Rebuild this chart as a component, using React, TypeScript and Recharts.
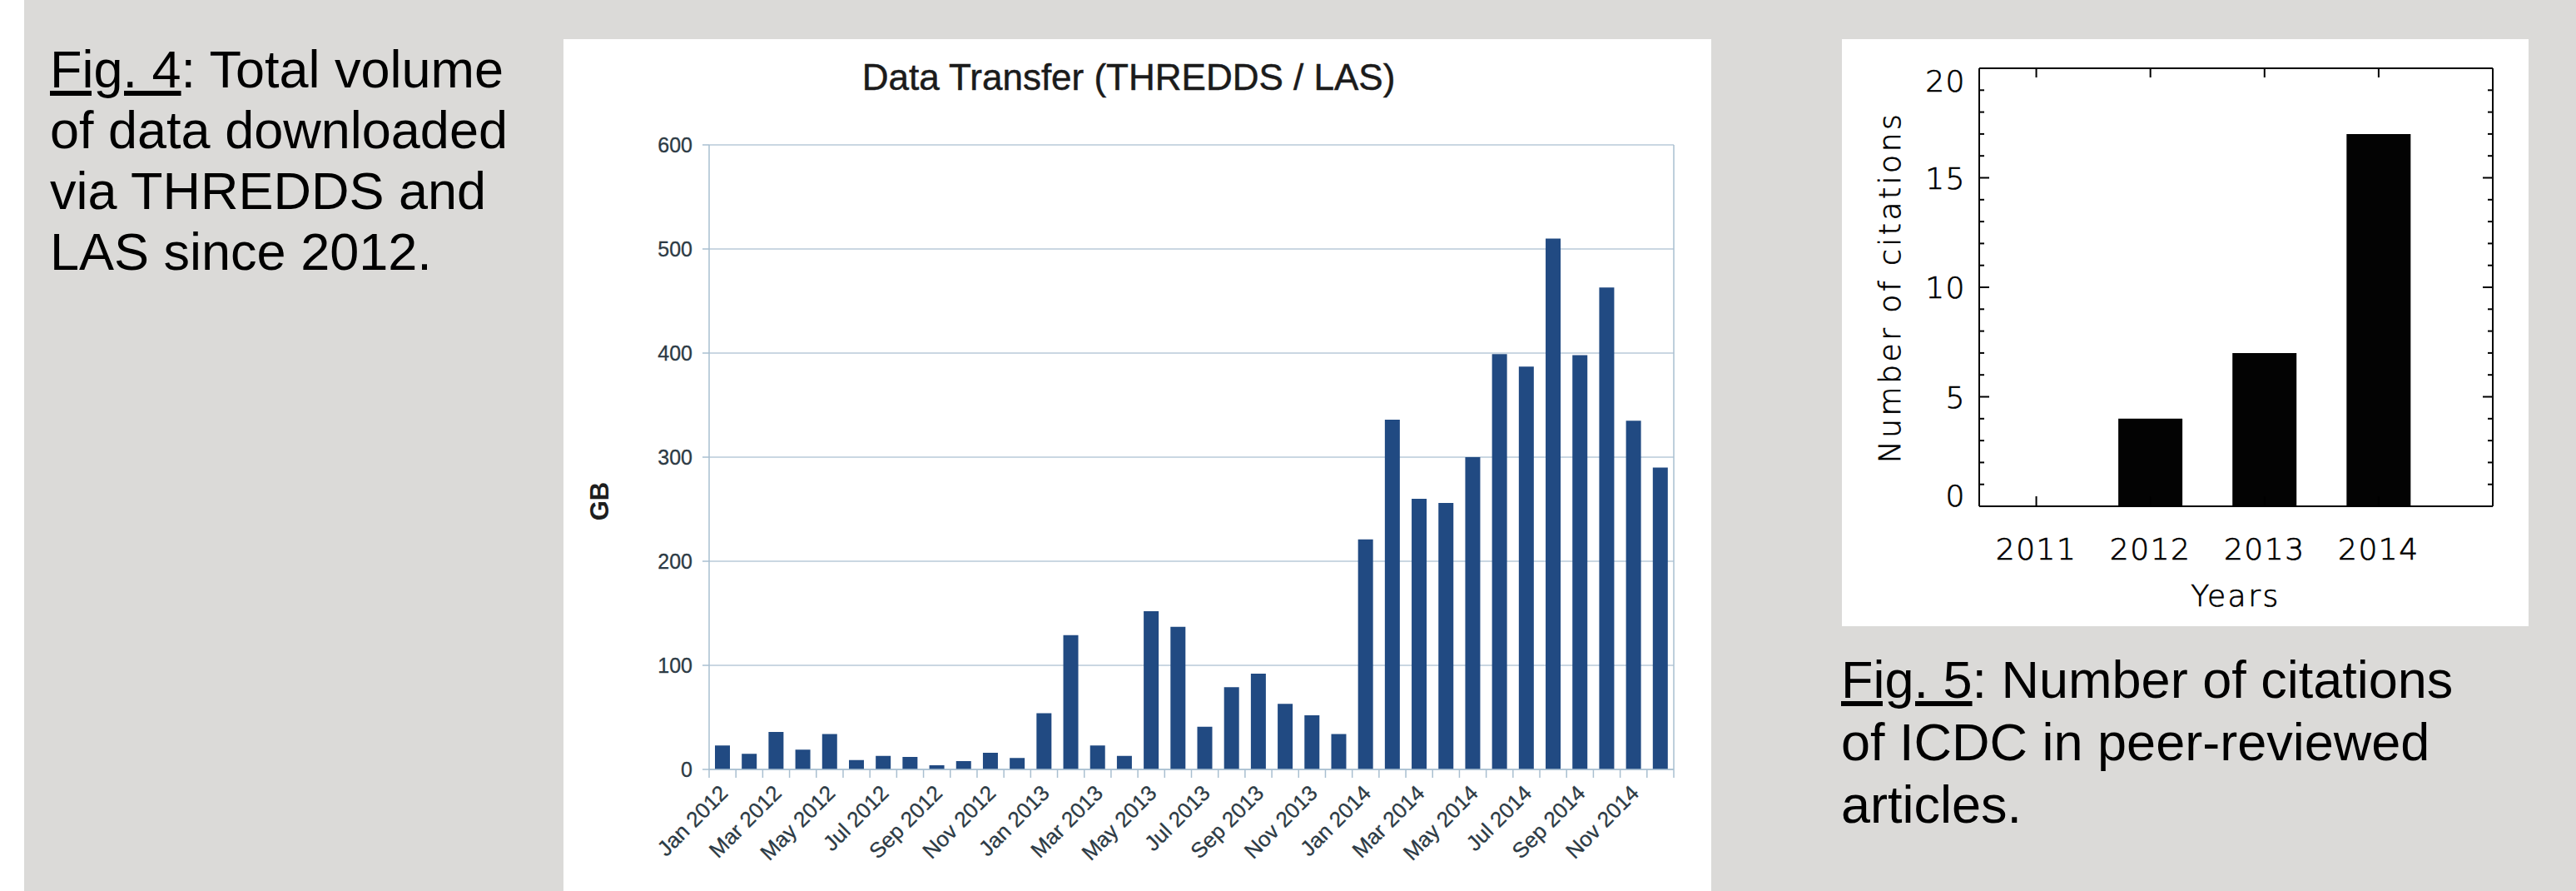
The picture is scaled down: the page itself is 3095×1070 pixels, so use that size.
import React from 'react';
import { BarChart, Bar, XAxis, YAxis, CartesianGrid } from 'recharts';

// ---------- Data ----------
const monthLabels = [
  'Jan 2012', 'Feb 2012', 'Mar 2012', 'Apr 2012', 'May 2012', 'Jun 2012',
  'Jul 2012', 'Aug 2012', 'Sep 2012', 'Oct 2012', 'Nov 2012', 'Dec 2012',
  'Jan 2013', 'Feb 2013', 'Mar 2013', 'Apr 2013', 'May 2013', 'Jun 2013',
  'Jul 2013', 'Aug 2013', 'Sep 2013', 'Oct 2013', 'Nov 2013', 'Dec 2013',
  'Jan 2014', 'Feb 2014', 'Mar 2014', 'Apr 2014', 'May 2014', 'Jun 2014',
  'Jul 2014', 'Aug 2014', 'Sep 2014', 'Oct 2014', 'Nov 2014', 'Dec 2014',
];
const volumeGB = [
  23, 15, 36, 19, 34, 9, 13, 12, 4, 8, 16, 11,
  54, 129, 23, 13, 152, 137, 41, 79, 92, 63, 52, 34,
  221, 336, 260, 256, 300, 399, 387, 510, 398, 463, 335, 290,
];
const gbTicks = [0, 100, 200, 300, 400, 500, 600];

const citationYears = [2011, 2012, 2013, 2014];
const citationCounts = [0, 4, 7, 17];
const citationTicks = [0, 1, 2, 3, 4, 5, 6, 7, 8, 9, 10, 11, 12, 13, 14, 15, 16, 17, 18, 19, 20];

const transferData = monthLabels.map((m, i) => ({ month: m, gb: volumeGB[i] }));
const citationData = citationYears.map((y, i) => ({ year: y, count: citationCounts[i] }));

// ---------- Styles ----------
const GRAY = '#dbdad8';
const GRID = '#b9cad8';
const AXIS = '#a9bfd0';
const BLUE = '#214a82';
const TXT = '#2c3a44';
const SANS = "'Liberation Sans', Arial, Helvetica, sans-serif";
const IDL = "'DejaVu Sans ExtraLight', 'DejaVu Sans', sans-serif";

const MonthTick = (props: any) => {
  const { x, y, payload, index, width } = props;
  const half = typeof payload?.offset === 'number' && payload.offset > 0 ? payload.offset : width / (2 * monthLabels.length);
  const tx = x + 8;
  const ty = y + 30;
  return (
    <g>
      <line x1={x - half} x2={x - half} y1={y} y2={y + 10} stroke={AXIS} strokeWidth={1.5} />
      {index === monthLabels.length - 1 && (
        <line x1={x + half} x2={x + half} y1={y} y2={y + 10} stroke={AXIS} strokeWidth={1.5} />
      )}
      {index % 2 === 0 && (
        <text
          x={tx}
          y={ty}
          transform={`rotate(-45 ${tx} ${ty})`}
          textAnchor="end"
          fontSize={26}
          fontFamily={SANS}
          fill={TXT}
          stroke={TXT}
          strokeWidth={0.3}
        >
          {payload.value}
        </text>
      )}
    </g>
  );
};

const idlText = { fontSize: 36, fontFamily: IDL, fontWeight: 200, fill: '#000', stroke: '#000', strokeWidth: 0.7 } as const;

const YearTick = (props: any) => {
  const { x, y, payload } = props;
  return (
    <g>
      <line x1={x} x2={x} y1={y} y2={y - 12} stroke="#000" strokeWidth={2} />
      <text x={x} y={y + 64} textAnchor="middle" letterSpacing={1.5} {...idlText}>
        {payload.value}
      </text>
    </g>
  );
};

const TopTick = (props: any) => {
  const { x, y } = props;
  return <line x1={x} x2={x} y1={y} y2={y + 11} stroke="#000" strokeWidth={2} />;
};

const CiteLeftTick = (props: any) => {
  const { x, y, payload } = props;
  const v = payload.value;
  const major = v % 5 === 0;
  let dy = 13;
  if (v === 20) dy = 28;
  if (v === 0) dy = 0;
  return (
    <g>
      <line x1={x} x2={x + (major ? 12 : 6)} y1={y} y2={y} stroke="#000" strokeWidth={2} />
      {major && (
        <text x={x - 16} y={y + dy} textAnchor="end" letterSpacing={1.5} {...idlText}>
          {v}
        </text>
      )}
    </g>
  );
};

const CiteRightTick = (props: any) => {
  const { x, y, payload } = props;
  const major = payload.value % 5 === 0;
  return <line x1={x} x2={x - (major ? 12 : 6)} y1={y} y2={y} stroke="#000" strokeWidth={2} />;
};

export default function App() {
  return (
    <div style={{ position: 'absolute', left: 0, top: 0, width: 3095, height: 1070, background: '#fff', overflow: 'hidden' }}>
      <div style={{ position: 'absolute', left: 29, top: 0, width: 3066, height: 1070, background: GRAY }} />

      {/* Fig. 4 caption */}
      <div
        style={{
          position: 'absolute', left: 60, top: 47, fontSize: 63, lineHeight: '73px',
          fontFamily: SANS, color: '#000', whiteSpace: 'nowrap',
        }}
      >
        <span style={{ textDecoration: 'underline' }}>Fig. 4</span>: Total volume<br />
        of data downloaded<br />
        via THREDDS and<br />
        LAS since 2012.
      </div>

      {/* Chart 1 */}
      <div style={{ position: 'absolute', left: 677, top: 47, width: 1379, height: 1023, background: '#fff' }}>
        <BarChart width={1379} height={1023} data={transferData} margin={{ top: 127, right: 44, bottom: 26, left: 95 }}>
          <CartesianGrid yAxisId="l" vertical={false} stroke={GRID} strokeWidth={1.5} />
          <XAxis
            dataKey="month"
            interval={0}
            height={120}
            tickSize={0}
            tickMargin={0}
            tickLine={false}
            axisLine={{ stroke: AXIS, strokeWidth: 1.5 }}
            tick={(p: any) => <MonthTick {...p} />}
          />
          <YAxis
            yAxisId="l"
            domain={[0, 600]}
            ticks={gbTicks}
            interval={0}
            width={80}
            tickSize={8}
            tickMargin={12}
            tickLine={{ stroke: AXIS, strokeWidth: 1.5 }}
            axisLine={{ stroke: AXIS, strokeWidth: 1.5 }}
            tick={{ fontSize: 25, fill: TXT, fontFamily: SANS, stroke: TXT, strokeWidth: 0.3 }}
          />
          <YAxis
            yAxisId="r"
            orientation="right"
            domain={[0, 600]}
            width={1}
            tick={false}
            tickLine={false}
            axisLine={{ stroke: AXIS, strokeWidth: 1.5 }}
          />
          <Bar yAxisId="l" dataKey="gb" fill={BLUE} barSize={18} isAnimationActive={false} />
        </BarChart>
        <svg width={1379} height={1023} style={{ position: 'absolute', left: 0, top: 0, pointerEvents: 'none' }}>
          <text x={679} y={61} textAnchor="middle" fontSize={44} fontFamily={SANS} fill="#1b1b1b" stroke="#1b1b1b" strokeWidth={0.5}>
            Data Transfer (THREDDS / LAS)
          </text>
          <text
            x={43}
            y={555}
            transform="rotate(-90 43 555)"
            textAnchor="middle"
            dominantBaseline="central"
            fontSize={31}
            fontWeight="bold"
            fontFamily={SANS}
            fill="#1e1e1e"
          >
            GB
          </text>
        </svg>
      </div>

      {/* Chart 2 */}
      <div style={{ position: 'absolute', left: 2213, top: 47, width: 825, height: 705, background: '#fff' }}>
        <BarChart width={825} height={705} data={citationData} margin={{ top: 34, right: 42, bottom: 14, left: 75 }}>
          <XAxis
            xAxisId="b"
            type="number"
            dataKey="year"
            domain={[2010.5, 2015]}
            allowDataOverflow
            ticks={citationYears}
            interval={0}
            height={130}
            tickSize={0}
            tickMargin={0}
            tickLine={false}
            axisLine={{ stroke: '#000', strokeWidth: 2 }}
            tick={(p: any) => <YearTick {...p} />}
          />
          <XAxis
            xAxisId="t"
            orientation="top"
            type="number"
            dataKey="year"
            domain={[2010.5, 2015]}
            allowDataOverflow
            ticks={citationYears}
            interval={0}
            height={1}
            tickSize={0}
            tickMargin={0}
            tickLine={false}
            axisLine={{ stroke: '#000', strokeWidth: 2 }}
            tick={(p: any) => <TopTick {...p} />}
          />
          <YAxis
            yAxisId="l"
            domain={[0, 20]}
            allowDataOverflow
            ticks={citationTicks}
            interval={0}
            width={90}
            tickSize={0}
            tickMargin={0}
            tickLine={false}
            axisLine={{ stroke: '#000', strokeWidth: 2 }}
            tick={(p: any) => <CiteLeftTick {...p} />}
          />
          <YAxis
            yAxisId="r"
            orientation="right"
            domain={[0, 20]}
            allowDataOverflow
            ticks={citationTicks}
            interval={0}
            width={1}
            tickSize={0}
            tickMargin={0}
            tickLine={false}
            axisLine={{ stroke: '#000', strokeWidth: 2 }}
            tick={(p: any) => <CiteRightTick {...p} />}
          />
          <Bar xAxisId="b" yAxisId="l" dataKey="count" fill="#030303" barSize={77} isAnimationActive={false} />
        </BarChart>
        <svg width={825} height={705} style={{ position: 'absolute', left: 0, top: 0, pointerEvents: 'none' }}>
          <text
            x={57}
            y={298}
            transform="rotate(-90 57 298)"
            textAnchor="middle"
            dominantBaseline="central"
            letterSpacing={3.5}
            {...idlText}
          >
            Number of citations
          </text>
          <text x={473} y={681} textAnchor="middle" letterSpacing={2.5} {...idlText}>
            Years
          </text>
        </svg>
      </div>

      {/* Fig. 5 caption */}
      <div
        style={{
          position: 'absolute', left: 2212, top: 779, fontSize: 63, lineHeight: '75px',
          fontFamily: SANS, color: '#000', whiteSpace: 'nowrap',
        }}
      >
        <span style={{ textDecoration: 'underline' }}>Fig. 5</span>: Number of citations<br />
        of ICDC in peer-reviewed<br />
        articles.
      </div>
    </div>
  );
}
